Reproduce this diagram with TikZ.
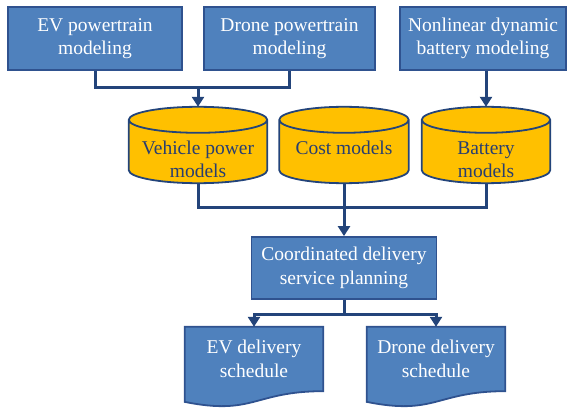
\documentclass[tikz,border=0pt]{standalone}
\usepackage{fontspec}
\setmainfont{Liberation Serif}
\usetikzlibrary{arrows.meta, calc, backgrounds}

\definecolor{boxblue}{RGB}{79,129,189}
\definecolor{boxedge}{RGB}{47,82,143}
\definecolor{linkblue}{RGB}{35,68,122}
\definecolor{dbgold}{RGB}{255,192,0}
\definecolor{dbtext}{RGB}{40,62,112}

\begin{document}
\begin{tikzpicture}[
        x=1pt, y=1pt,
        every node/.style={font=\fontsize{19.5}{23.5}\selectfont, align=center, inner sep=2pt},
        task/.style={draw=boxedge, line width=1.8pt, fill=boxblue, text=white, minimum height=63pt},
        dbtxt/.style={text=dbtext, inner ysep=0pt, minimum height=76pt, text height=70pt, text depth=4pt},
        dbshape/.style={draw=linkblue, line width=1.8pt, fill=dbgold},
        doctxt/.style={text=white, minimum height=64pt},
        docshape/.style={draw=boxedge, line width=1.8pt, fill=boxblue},
        link/.style={draw=linkblue, line width=3pt},
        arr/.style={link, -{Triangle[width=12pt,length=10pt]}}
    ]

    \useasboundingbox (0,0) rectangle (568,-409);

    % Modeling tasks
    \node[task, minimum width=174pt] (evpt) at (95,-38.5) {EV powertrain\\modeling};
    \node[task, minimum width=171pt] (drpt) at (289.5,-38.5) {Drone powertrain\\modeling};
    \node[task, minimum width=166pt] (batdyn) at (483,-38.5) {Nonlinear dynamic\\battery modeling};

    % Model databases
    \node[dbtxt, minimum width=138pt] (vehmod) at (198,-145) {Vehicle power\\models};
    \node[dbtxt, minimum width=129pt, text height=24pt] (costmod) at (344,-145) {Cost models};
    \node[dbtxt, minimum width=128pt] (batmod) at (486,-145) {Battery\\models};

    % Planning
    \node[task, minimum width=185pt, minimum height=62pt] (plan) at (344,-268) {Coordinated delivery\\service planning};

    % Schedules
    \node[doctxt, minimum width=138pt] (evsched) at (254,-359) {EV delivery\\schedule};
    \node[doctxt, minimum width=138pt] (drsched) at (436,-359) {Drone delivery\\schedule};

    \begin{scope}[on background layer]
        \foreach \db in {vehmod,costmod,batmod}
            \path[dbshape] let \p1=(\db.west), \p2=(\db.east), \n1={(\x2-\x1)/2} in
                ($(\db.north west)+(0,-13)$) -- ($(\db.south west)+(0,13)$)
                arc[start angle=180, end angle=360, x radius=\n1, y radius=13pt]
                -- ($(\db.north east)+(0,-13)$)
                arc[start angle=0, end angle=180, x radius=\n1, y radius=13pt] -- cycle
                ($(\db.north)+(0,-13)$) ellipse[x radius=\n1, y radius=13pt];
        \foreach \doc in {evsched,drsched}
            \path[docshape] (\doc.north west) -- (\doc.north east) -- (\doc.south east)
                .. controls (\doc.south) and ($(\doc.south)+(0,-24.6)$) ..
                ($(\doc.south west)+(0,-10.7)$) -- cycle;
    \end{scope}

    % Connectors
    \coordinate (pwrjoin) at (vehmod.north |- 0,-88);
    \coordinate (mdljoin) at (plan.north |- 0,-208);
    \coordinate (outjoin) at (plan.south |- 0,-314);

    \draw[link] (evpt.south) |- (pwrjoin) -| (drpt.south);
    \draw[arr] (pwrjoin) -- (vehmod.north);
    \draw[arr] (batmod.north |- batdyn.south) -- (batmod.north);

    \draw[link] (vehmod.south) |- (mdljoin) -| (batmod.south);
    \draw[link] (costmod.south) -- (costmod.south |- mdljoin);
    \draw[arr] (mdljoin) -- (plan.north);

    \draw[link] (plan.south) -- (outjoin);
    \draw[arr] (outjoin) -| (evsched.north);
    \draw[arr] (outjoin) -| (drsched.north);

\end{tikzpicture}
\end{document}
